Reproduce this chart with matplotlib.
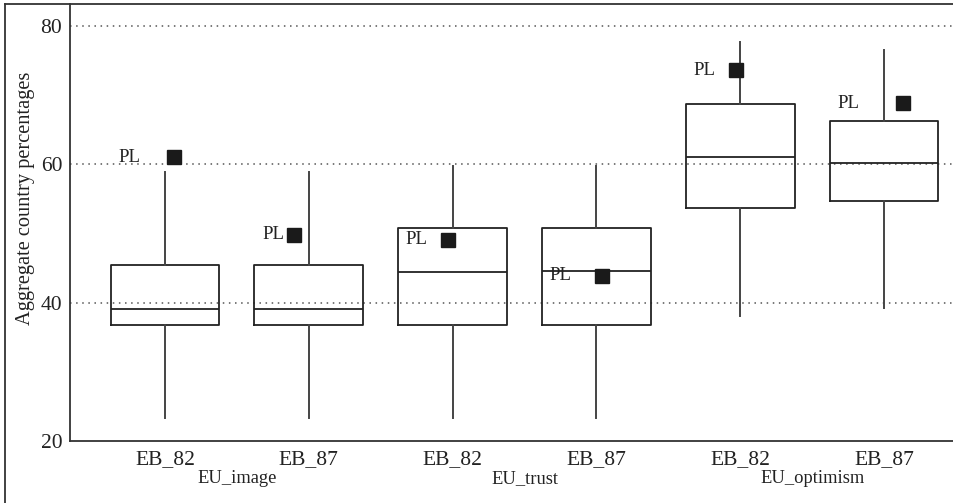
import matplotlib.pyplot as plt
from matplotlib.lines import Line2D

plt.rcParams['font.family'] = ['Liberation Serif', 'DejaVu Serif']

waves = ['EB_82', 'EB_87', 'EB_82', 'EB_87', 'EB_82', 'EB_87']
groups = ['EU_image', 'EU_trust', 'EU_optimism']

# box stats
whislo = [23.3, 23.3, 23.3, 23.3, 38.0, 39.2]
q1 = [36.7, 36.7, 36.7, 36.7, 53.7, 54.7]
med = [39.1, 39.1, 44.5, 44.6, 61.0, 60.2]
q3 = [45.4, 45.4, 50.8, 50.8, 68.7, 66.3]
whishi = [58.9, 58.9, 59.8, 59.8, 77.7, 76.6]

# Poland's value for each wave
pl_values = [61.0, 49.8, 49.1, 43.9, 73.6, 68.8]
pl_jitter = [0.06, -0.10, -0.03, 0.04, -0.03, 0.13]

fig = plt.figure(figsize=(9.54, 5.03), dpi=100)
ax = fig.add_axes([70/954, 1 - 441/503, 1 - 70/954, 437/503])

pos = list(range(1, len(waves) + 1))
stats = []
for i in range(len(waves)):
    stats.append({'whislo': whislo[i], 'q1': q1[i], 'med': med[i],
                  'q3': q3[i], 'whishi': whishi[i], 'fliers': []})

line = dict(color='#222222', linewidth=1.3)
ax.bxp(stats, positions=pos, widths=0.755, showcaps=False, showfliers=False,
       boxprops=line, medianprops=line,
       whiskerprops=dict(color='#444444', linewidth=1.4))

for i in range(len(waves)):
    ax.plot(pos[i] + pl_jitter[i], pl_values[i], 's', color='#1a1a1a',
            markersize=10, zorder=5)
    ax.text(pos[i] - 0.325, pl_values[i], 'PL', ha='left', va='center',
            fontsize=13.5, color='#222222')

for g in range(len(groups)):
    ax.text(pos[2*g] + 0.5, -0.085, groups[g], transform=ax.get_xaxis_transform(),
            ha='center', va='center', fontsize=13.3, color='#222222')

ax.set_xlim(0.34, 6.486)
ax.set_ylim(20, 83.18)
ax.set_xticks(pos)
ax.set_xticklabels(waves)
ax.set_yticks([20, 40, 60, 80])
ax.tick_params(length=0, labelsize=15.5, labelcolor='#222222')
ax.tick_params(axis='x', pad=6.5)
ax.tick_params(axis='y', pad=5.5)
ax.set_ylabel('Aggregate country percentages', fontsize=14.7, color='#222222')
ax.yaxis.set_label_coords(-0.040, 0.556)

for y in [40, 60, 80]:
    ax.axhline(y, color='#555555', linewidth=1.1, linestyle=(0, (1, 3)), zorder=0)

ax.spines['top'].set_visible(False)
ax.spines['right'].set_visible(False)
for s in ['left', 'bottom']:
    ax.spines[s].set_color('#333333')
    ax.spines[s].set_linewidth(1.3)

# outer frame
fig.add_artist(Line2D([5/954, 5/954], [0, 1 - 4/503], transform=fig.transFigure,
                      color='#333333', linewidth=1.3))
fig.add_artist(Line2D([5/954, 1], [1 - 4/503, 1 - 4/503], transform=fig.transFigure,
                      color='#333333', linewidth=1.3))

fig.savefig('out.png', dpi=100)
